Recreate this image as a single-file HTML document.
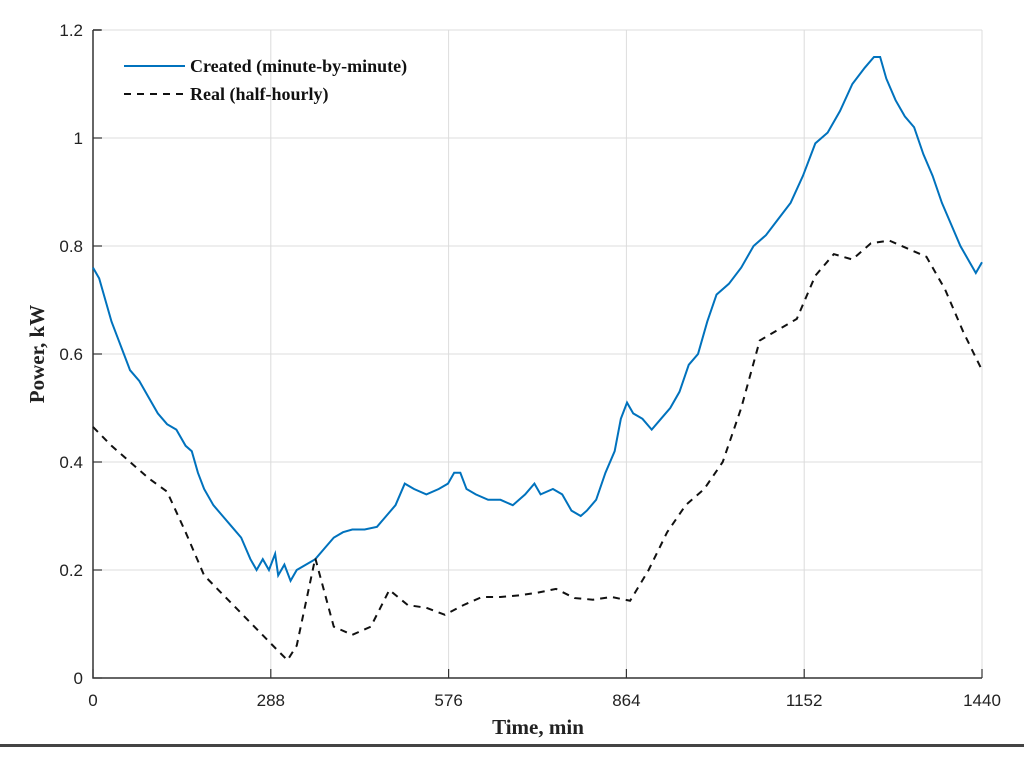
<!DOCTYPE html>
<html><head><meta charset="utf-8"><style>
body{margin:0;background:#fff;}
svg{display:block;}
</style></head><body>
<svg id="chart" width="1024" height="757" xmlns="http://www.w3.org/2000/svg">
<g id="grid"></g>
<g id="axes"></g>
<g id="series"></g>
<text x="538" y="734" font-family="Liberation Serif, serif" font-weight="bold" font-size="21" text-anchor="middle" fill="#222">Time, min</text>
<text transform="translate(44,354) rotate(-90)" font-family="Liberation Serif, serif" font-weight="bold" font-size="21" text-anchor="middle" fill="#222">Power, kW</text>
<rect x="0" y="744" width="1024" height="3" fill="#444"/>
<g>
<g>
<line x1="124" y1="66" x2="185" y2="66" stroke="#0072BD" stroke-width="2"/>
<text x="190" y="72" font-family="Liberation Serif, serif" font-weight="bold" font-size="18" fill="#111">Created (minute-by-minute)</text>
</g>
<g>
<line x1="124" y1="94" x2="185" y2="94" stroke="#111" stroke-width="2" stroke-dasharray="7,6"/>
<text x="190" y="100" font-family="Liberation Serif, serif" font-weight="bold" font-size="18" fill="#111">Real (half-hourly)</text>
</g>
</g>
</svg>
<script>
const xTicks=[0,288,576,864,1152,1440];
const yTicks=[0,0.2,0.4,0.6,0.8,1,1.2];
const realTimes=[0,30,60,90,120,150,180,210,240,270,300,315,330,360,390,420,450,480,510,540,570,600,630,660,690,720,750,780,810,840,870,900,930,960,990,1020,1050,1080,1110,1140,1170,1200,1230,1260,1290,1320,1350,1380,1410,1440];
const realValues=[0.465,0.43,0.40,0.37,0.345,0.27,0.19,0.155,0.12,0.085,0.05,0.033,0.06,0.222,0.095,0.08,0.095,0.163,0.135,0.13,0.117,0.135,0.15,0.15,0.153,0.158,0.165,0.148,0.145,0.15,0.143,0.2,0.27,0.32,0.35,0.4,0.5,0.625,0.645,0.665,0.745,0.785,0.775,0.805,0.81,0.795,0.78,0.72,0.64,0.57];
const createdTimes=[0,10,20,30,40,50,60,75,90,105,120,135,150,160,170,180,195,210,225,240,255,265,275,285,295,300,310,320,330,345,360,375,390,405,420,440,460,475,490,505,520,540,560,575,585,595,605,620,640,660,680,700,715,725,745,760,775,790,800,815,830,845,855,865,875,890,905,920,935,950,965,980,995,1010,1030,1050,1070,1090,1110,1130,1150,1170,1190,1210,1230,1250,1265,1275,1285,1300,1315,1330,1345,1360,1375,1390,1405,1420,1430,1440];
const createdValues=[0.76,0.74,0.70,0.66,0.63,0.60,0.57,0.55,0.52,0.49,0.47,0.46,0.43,0.42,0.38,0.35,0.32,0.30,0.28,0.26,0.22,0.20,0.22,0.20,0.23,0.19,0.21,0.18,0.20,0.21,0.22,0.24,0.26,0.27,0.275,0.275,0.28,0.30,0.32,0.36,0.35,0.34,0.35,0.36,0.38,0.38,0.35,0.34,0.33,0.33,0.32,0.34,0.36,0.34,0.35,0.34,0.31,0.30,0.31,0.33,0.38,0.42,0.48,0.51,0.49,0.48,0.46,0.48,0.50,0.53,0.58,0.60,0.66,0.71,0.73,0.76,0.80,0.82,0.85,0.88,0.93,0.99,1.01,1.05,1.10,1.13,1.15,1.15,1.11,1.07,1.04,1.02,0.97,0.93,0.88,0.84,0.80,0.77,0.75,0.77];
const NS='http://www.w3.org/2000/svg';
const X0=93,X1=982,Y0=678,Y1=30;
function xs(t){return X0+(t-0)/(1440-0)*(X1-X0);}
function ys(v){return Y0-(v-0)/(1.2-0)*(Y0-Y1);}
function mk(tag,attrs,parent){const e=document.createElementNS(NS,tag);for(const k in attrs)e.setAttribute(k,attrs[k]);parent.appendChild(e);return e;}
const grid=document.getElementById('grid'),axes=document.getElementById('axes'),series=document.getElementById('series');
xTicks.forEach(t=>{
  if(t>0){const g=mk('line',{x1:xs(t),x2:xs(t),y1:Y1,y2:Y0,stroke:'#dcdcdc','stroke-width':1},grid);
  
  }
  const tk=mk('line',{x1:xs(t),x2:xs(t),y1:Y0,y2:Y0-9,stroke:'#333','stroke-width':1.2},axes);
  
  
  const lb=mk('text',{x:xs(t),y:Y0+28,'text-anchor':'middle','font-family':'Liberation Sans, sans-serif','font-size':17,fill:'#222'},axes);
  lb.textContent=t;
  
  
});
yTicks.forEach(v=>{
  if(v>0){const g=mk('line',{x1:X0,x2:X1,y1:ys(v),y2:ys(v),stroke:'#dcdcdc','stroke-width':1},grid);
  
  }
  const tk=mk('line',{x1:X0,x2:X0+9,y1:ys(v),y2:ys(v),stroke:'#333','stroke-width':1.2},axes);
  
  
  const lb=mk('text',{x:X0-10,y:ys(v)+6,'text-anchor':'end','font-family':'Liberation Sans, sans-serif','font-size':17,fill:'#222'},axes);
  lb.textContent=v;
  
  
});
const ax=mk('path',{d:`M${X0},${Y1} V${Y0} H${X1} M${X0},${Y1} H${X0+8}`,stroke:'#333','stroke-width':1.5,fill:'none'},axes);


const cp=mk('polyline',{points:createdTimes.map((t,i)=>xs(t)+','+ys(createdValues[i])).join(' '),fill:'none',stroke:'#0072BD','stroke-width':2},series);


const rp=mk('polyline',{points:realTimes.map((t,i)=>xs(t)+','+ys(realValues[i])).join(' '),fill:'none',stroke:'#111','stroke-width':2,'stroke-dasharray':'7,6'},series);


</script>
</body></html>
